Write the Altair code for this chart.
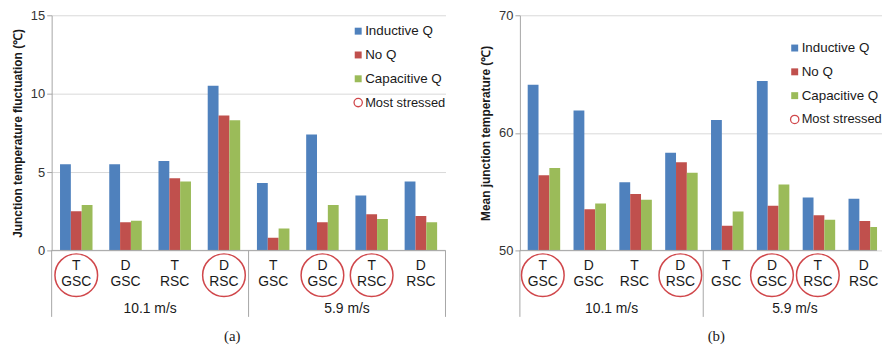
import altair as alt
import pandas as pd

# ---------------- data ----------------
devices = ["T", "D", "T", "D", "T", "D", "T", "D"]
converters = ["GSC", "GSC", "RSC", "RSC", "GSC", "GSC", "RSC", "RSC"]
speeds = ["10.1 m/s", "5.9 m/s"]
series = ["Inductive Q", "No Q", "Capacitive Q"]
colors = ["#4f81bd", "#c0504d", "#9bbb59"]
most_stressed = [True, False, False, True, False, True, True, False]

fluct_inductive = [5.5, 5.5, 5.7, 10.5, 4.3, 7.4, 3.5, 4.4]
fluct_noq = [2.5, 1.8, 4.6, 8.6, 0.8, 1.8, 2.3, 2.2]
fluct_capacitive = [2.9, 1.9, 4.4, 8.3, 1.4, 2.9, 2.0, 1.8]

mean_inductive = [64.1, 61.9, 55.8, 58.3, 61.1, 64.4, 54.5, 54.4]
mean_noq = [56.4, 53.5, 54.8, 57.5, 52.1, 53.8, 53.0, 52.5]
mean_capacitive = [57.0, 54.0, 54.3, 56.6, 53.3, 55.6, 52.6, 52.0]

FONT = "Liberation Sans"
STRESS_COLOR = "#d0474b"
AXIS_GREY = "#a6a6a6"
GRID_GREY = "#d9d9d9"
TEXT = "#1a1a1a"


def panel(vals, ymin, ymax, ticks, ytitle, W, H, full_w, leg_x, leg_y, caption, cap_x):
    grp_ids = [str(i) for i in range(8)]
    step = full_w / 8.0
    rows = []
    for s, arr in zip(series, vals):
        for i in range(8):
            rows.append({"grp": grp_ids[i], "series": s, "value": arr[i]})
    df = pd.DataFrame(rows)

    lab_df = pd.DataFrame({
        "grp": grp_ids,
        "label": [f"{d}\n{c}" for d, c in zip(devices, converters)],
        "stressed": most_stressed,
    })

    xsc = alt.Scale(domain=grp_ids, range=[0, full_w], paddingInner=0.34, paddingOuter=0.17)
    x = alt.X("grp:N", scale=xsc, axis=None)
    ysc = alt.Scale(domain=[ymin, ymax], nice=False, zero=False)

    bars = alt.Chart(df).mark_bar(clip=True).encode(
        x=x,
        xOffset=alt.XOffset("series:N", scale=alt.Scale(domain=series)),
        y=alt.Y("value:Q", scale=ysc, axis=alt.Axis(
            values=ticks, title=ytitle, grid=True, gridColor=GRID_GREY,
            domainColor=AXIS_GREY, tickColor=AXIS_GREY, tickSize=5,
            labelFont=FONT, labelFontSize=13, labelColor="#333333", labelPadding=2,
            titleFont=FONT, titleFontSize=12, titleFontWeight="bold",
            titleColor=TEXT, titlePadding=6)),
        y2=alt.datum(ymin),
        color=alt.Color("series:N", scale=alt.Scale(domain=series, range=colors), legend=None),
    )

    layers = [bars]

    # baseline
    layers.append(alt.Chart(pd.DataFrame({"a": [0]})).mark_rule(color=AXIS_GREY).encode(
        x=alt.value(0), x2=alt.value(W), y=alt.value(H)))

    # group separators
    for px in [0, 4 * step, 8 * step]:
        if px <= W:
            layers.append(alt.Chart(pd.DataFrame({"a": [0]})).mark_rule(color=AXIS_GREY).encode(
                x=alt.value(px), y=alt.value(H), y2=alt.value(H + 67)))

    # category labels
    layers.append(alt.Chart(lab_df).mark_text(
        lineBreak="\n", font=FONT, fontSize=14, lineHeight=16, baseline="middle",
        color=TEXT).encode(x=x, y=alt.value(H + 16), text="label:N"))

    # most-stressed circles
    layers.append(alt.Chart(lab_df).transform_filter("datum.stressed").mark_point(
        shape="circle", filled=False, size=43 * 43, strokeWidth=1.5,
        color=STRESS_COLOR, opacity=1).encode(x=x, y=alt.value(H + 25)))

    # speed labels
    for k, sp in enumerate(speeds):
        layers.append(alt.Chart(pd.DataFrame({"t": [sp]})).mark_text(
            font=FONT, fontSize=14, color=TEXT, baseline="middle").encode(
            x=alt.value((4 * k + 2) * step), y=alt.value(H + 59), text="t:N"))

    # caption
    layers.append(alt.Chart(pd.DataFrame({"t": [caption]})).mark_text(
        font="Liberation Serif", fontSize=15, color=TEXT, baseline="middle").encode(
        x=alt.value(cap_x), y=alt.value(H + 86), text="t:N"))

    # legend
    for i, s in enumerate(series):
        yy = leg_y + 24 * i
        layers.append(alt.Chart(pd.DataFrame({"t": [s]})).mark_point(
            shape="square", filled=True, size=49, color=colors[i], opacity=1).encode(
            x=alt.value(leg_x), y=alt.value(yy)))
        layers.append(alt.Chart(pd.DataFrame({"t": [s]})).mark_text(
            font=FONT, fontSize=13.5, color=TEXT, align="left", baseline="middle").encode(
            x=alt.value(leg_x + 7), y=alt.value(yy), text="t:N"))
    yy = leg_y + 72
    layers.append(alt.Chart(pd.DataFrame({"t": ["Most stressed"]})).mark_point(
        shape="circle", filled=False, size=70, strokeWidth=1.3, color=STRESS_COLOR,
        opacity=1).encode(x=alt.value(leg_x), y=alt.value(yy)))
    layers.append(alt.Chart(pd.DataFrame({"t": ["Most stressed"]})).mark_text(
        font=FONT, fontSize=13, color=TEXT, align="left", baseline="middle").encode(
        x=alt.value(leg_x + 7), y=alt.value(yy), text="t:N"))

    return alt.layer(*layers).properties(width=W, height=H)


pa = panel([fluct_inductive, fluct_noq, fluct_capacitive], 0, 15, [0, 5, 10, 15],
           "Junction temperature fluctuation (\u2103)", 397, 237, 397,
           309, 16, "(a)", 182)
pb = panel([mean_inductive, mean_noq, mean_capacitive], 50, 70, [50, 60, 70],
           "Mean junction temperature (\u2103)", 360, 237, 369.6,
           277, 33, "(b)", 198)

chart = alt.hconcat(pa, pb, spacing=33).properties(
    padding={"left": 3, "top": 0, "right": 0, "bottom": 0}
).configure_view(stroke=None)

chart.save("out.html", embed_options={"renderer": "svg", "actions": False})
